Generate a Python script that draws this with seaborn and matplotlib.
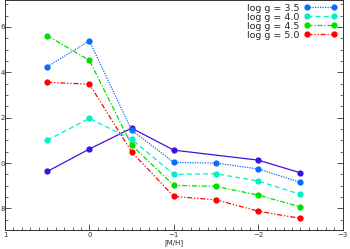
import matplotlib
matplotlib.use("Agg")
import matplotlib.pyplot as plt
import numpy as np
import pandas as pd
import seaborn as sns
from matplotlib.ticker import MultipleLocator

# metallicity grid
metallicity = [0.5, 0.0, -0.5, -1.0, -1.5, -2.0, -2.5]

# values per surface gravity (NaN where no model)
logg_30 = [0.963, 1.062, 1.154, 1.057, np.nan, 1.013, 0.957]
logg_35 = [1.425, 1.539, 1.145, 1.003, 1.000, 0.974, 0.915]
logg_40 = [1.101, 1.197, 1.105, 0.950, 0.953, 0.921, 0.862]
logg_45 = [1.562, 1.453, 1.079, 0.902, 0.897, 0.859, 0.807]
logg_50 = [1.356, 1.348, 1.049, 0.853, 0.838, 0.788, 0.756]

series_names = ["log g = 3.0", "log g = 3.5", "log g = 4.0", "log g = 4.5", "log g = 5.0"]
series_vals = [logg_30, logg_35, logg_40, logg_45, logg_50]
colors = ["#4010e0", "#0a6cff", "#00f0c8", "#00e000", "#ff0000"]
dashes = ["", (1, 1), (4, 2.5), (4, 1.5, 1, 1.5), (4, 1.5, 1, 1.5, 1, 1.5)]

ytick_vals = [1.6, 1.4, 1.2, 1.0, 0.8]
ytick_labels = ["6", "4", "2", "0", "8"]
xtick_vals = [1, 0, -1, -2, -3]
xtick_labels = ["1", "0", "\u22121", "\u22122", "\u22123"]

frames = []
for name, vals in zip(series_names, series_vals):
    frames.append(pd.DataFrame({"feh": metallicity, "val": vals, "logg": name}))
df = pd.concat(frames, ignore_index=True).dropna()

sns.set_style("white")
plt.rcParams["font.family"] = ["DejaVu Sans"]

fig = plt.figure(figsize=(3.5, 2.49), dpi=100)
ax = fig.add_axes([5 / 350, 19 / 249, 337.7 / 350, 230 / 249])

handles = []
for name, col, ds in zip(series_names, colors, dashes):
    sub = df[df["logg"] == name]
    sns.lineplot(data=sub, x="feh", y="val", ax=ax, color=col, marker="o",
                 markersize=4.5, markeredgewidth=0, linewidth=0.9,
                 dashes=False, estimator=None, sort=False, legend=False)
    line = ax.lines[-1]
    if ds:
        line.set_dashes(ds)
    handles.append(line)

ax.set_xlim(1, -3)
ax.set_ylim(0.705, 1.719)
ax.set_xticks(xtick_vals)
ax.set_xticklabels(xtick_labels)
ax.set_yticks(ytick_vals)
ax.set_yticklabels(ytick_labels)
ax.xaxis.set_minor_locator(MultipleLocator(0.1))
ax.yaxis.set_minor_locator(MultipleLocator(0.05))
ax.tick_params(which="both", direction="in", left=True, right=True, bottom=True, top=False,
               labelsize=5, colors="#333333")
ax.tick_params(axis="x", pad=1.5)
ax.tick_params(axis="y", pad=0.2)
ax.tick_params(which="major", length=4, width=0.6)
ax.tick_params(which="minor", length=2, width=0.5)
ax.set_xlabel("[M/H]", fontsize=5, labelpad=0.5)
ax.set_ylabel("")
for s in ax.spines.values():
    s.set_linewidth(0.7)
    s.set_color("#333333")

leg = ax.legend(handles[1:], series_names[1:], loc="upper right",
                bbox_to_anchor=(0.995, 1.0), frameon=False, fontsize=6.8,
                markerfirst=False, numpoints=2, handlelength=3.5,
                labelspacing=0.0, handletextpad=0.5, borderaxespad=0)

fig.savefig("out.png", dpi=100)
